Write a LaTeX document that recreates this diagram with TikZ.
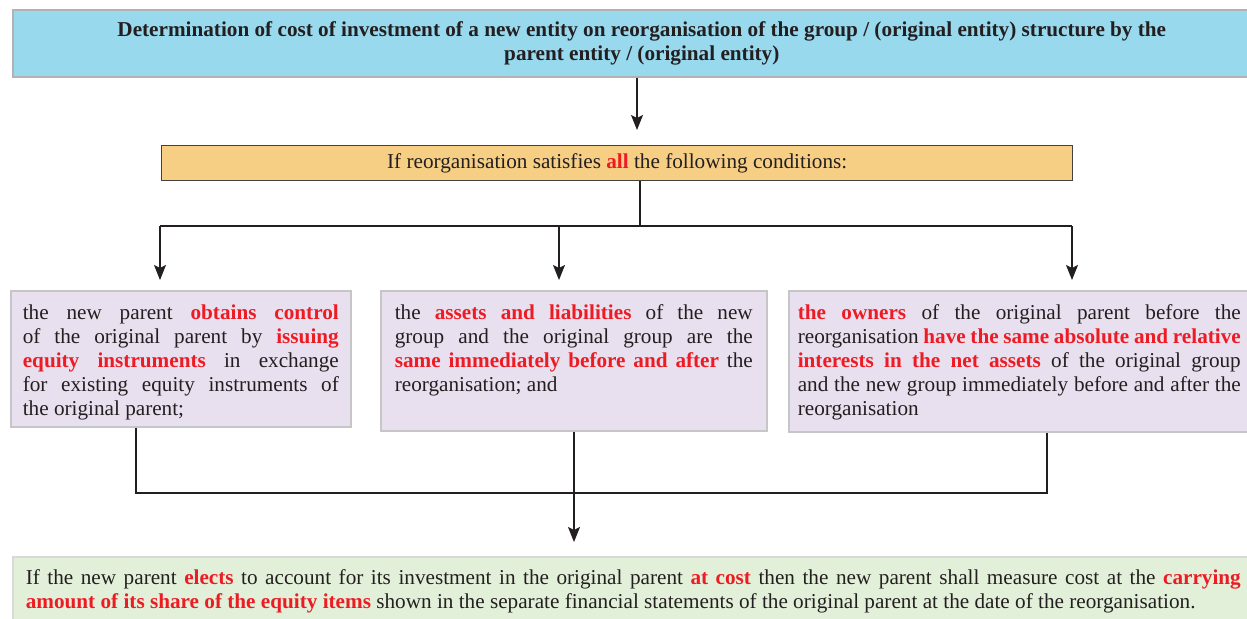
\documentclass[tikz,border=0pt]{standalone}
\usepackage{fontspec}
\setmainfont{Liberation Serif}
\usepackage{xcolor}
\usetikzlibrary{arrows.meta}

\definecolor{headblue}{RGB}{152,217,238}
\definecolor{condorange}{RGB}{246,207,133}
\definecolor{itemlilac}{RGB}{232,224,238}
\definecolor{resultgreen}{RGB}{226,240,217}
\definecolor{keyred}{RGB}{237,28,36}
\definecolor{ink}{RGB}{35,31,32}
\newcommand{\keyterm}[1]{\textcolor{keyred}{\bfseries #1}}
\newcommand{\boxpar}[3]{\parbox[t][#2][t]{#1}{\tolerance=9999\hbadness=10000 #3}}

\begin{document}
\fontsize{10.6}{12}\selectfont
\begin{tikzpicture}[x=0.5pt, y=-0.5pt,
  every node/.style={text=ink, anchor=north west},
  headbox/.style={draw=gray!60, line width=0.8pt, fill=headblue, align=center,
    font=\bfseries, minimum width=629pt, minimum height=33.5pt, inner sep=0pt},
  condbox/.style={draw=ink!85, line width=0.7pt, fill=condorange,
    minimum width=455.5pt, minimum height=17.5pt, inner sep=0pt},
  itembox/.style={draw=gray!45, line width=0.8pt, fill=itemlilac, inner ysep=7pt},
  resultbox/.style={draw=gray!30, line width=0.8pt, fill=resultgreen,
    inner xsep=6.5pt, inner ysep=6.5pt},
  link/.style={draw=ink, line width=0.6pt},
  arrow/.style={link, -{Stealth[length=7.5pt, width=6pt, inset=1.5pt]}}]
  \useasboundingbox (0,0) rectangle (1247,618);

  % Heading and condition
  \node[headbox] (title) at (12,9)
    {Determination of cost of investment of a new entity on reorganisation of the group / (original entity) structure by the\\
     parent entity / (original entity)};
  \node[condbox] (cond) at (161,145)
    {If reorganisation satisfies \keyterm{all} the following conditions:};

  % The three conditions
  \node[itembox, inner xsep=6pt] (control) at (10,290) {\boxpar{158pt}{54pt}{%
    the new parent \keyterm{obtains control}\linebreak
    of the original parent by \keyterm{issuing}\linebreak
    \keyterm{equity instruments} in exchange\linebreak
    for existing equity instruments of\linebreak
    the original parent;}};
  \node[itembox, inner xsep=7pt] (assets) at (380,290) {\boxpar{179pt}{56pt}{%
    the \keyterm{assets and liabilities} of the new\linebreak
    group and the original group are the\linebreak
    \keyterm{same immediately before and after} the\linebreak
    reorganisation; and}};
  \node[itembox, inner xsep=4.5pt] (owners) at (788,290) {\boxpar{221.5pt}{56.5pt}{%
    \keyterm{the owners} of the original parent before the\linebreak
    reorganisation \keyterm{have the same absolute and relative}\linebreak
    \keyterm{interests in the net assets} of the original group\linebreak
    and the new group immediately before and after the\linebreak
    reorganisation}};

  % Outcome
  \node[resultbox] (result) at (12,556) {\boxpar{607.5pt}{22pt}{%
    If the new parent \keyterm{elects} to account for its investment in the original parent \keyterm{at cost} then the new parent shall measure cost at the \keyterm{carrying}\linebreak
    \keyterm{amount of its share of the equity items} shown in the separate financial statements of the original parent at the date of the reorganisation.}};

  % Connectors
  \coordinate (drop) at (637,0);
  \draw[arrow, shorten >=7.5pt] (title.south -| drop) -- (cond.north -| drop);
  \coordinate (split) at (640,226);
  \coordinate (fork1) at (160,226);
  \coordinate (fork2) at (559,226);
  \coordinate (fork3) at (1072,226);
  \draw[link] (cond.south -| split) -- (split);
  \draw[link] (fork1) -- (fork3);
  \foreach \f/\b in {fork1/control, fork2/assets, fork3/owners}
    \draw[arrow, shorten >=5pt] (\f) -- (\b.north -| \f);
  \coordinate (join1) at (136,493);
  \coordinate (join2) at (574,493);
  \coordinate (join3) at (1047,493);
  \draw[link] (control.south -| join1) -- (join1) -- (join3) -- (owners.south -| join3);
  \draw[arrow, shorten >=7pt] (assets.south -| join2) -- (result.north -| join2);
\end{tikzpicture}
\end{document}
